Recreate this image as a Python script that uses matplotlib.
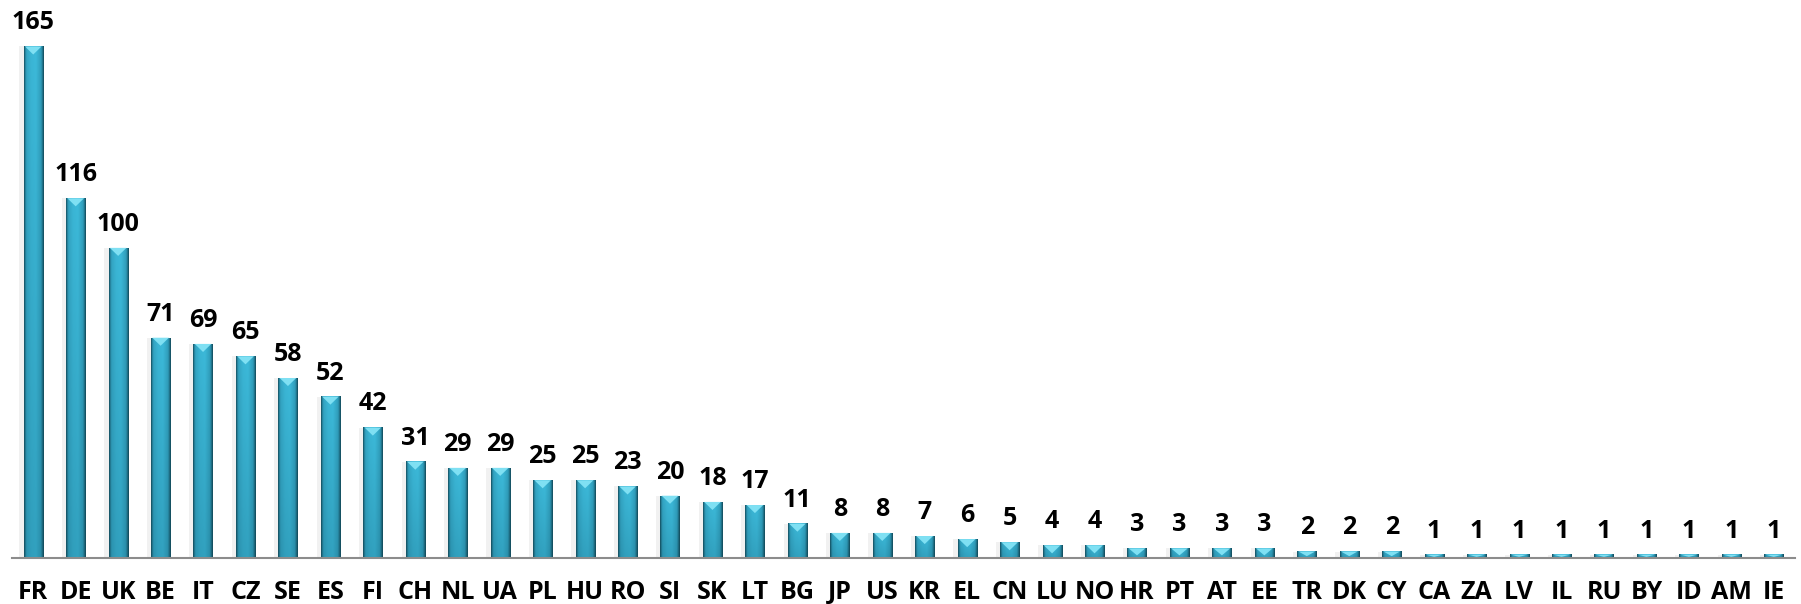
import numpy as np
import matplotlib.pyplot as plt
from matplotlib.patches import Polygon
from matplotlib.colors import LinearSegmentedColormap

countries = ["FR", "DE", "UK", "BE", "IT", "CZ", "SE", "ES", "FI", "CH", "NL", "UA",
             "PL", "HU", "RO", "SI", "SK", "LT", "BG", "JP", "US", "KR", "EL", "CN",
             "LU", "NO", "HR", "PT", "AT", "EE", "TR", "DK", "CY", "CA", "ZA", "LV",
             "IL", "RU", "BY", "ID", "AM", "IE"]
counts = [165, 116, 100, 71, 69, 65, 58, 52, 42, 31, 29, 29,
          25, 25, 23, 20, 18, 17, 11, 8, 8, 7, 6, 5,
          4, 4, 3, 3, 3, 3, 2, 2, 2, 1, 1, 1,
          1, 1, 1, 1, 1, 1]

plt.rcParams['font.family'] = ['Open Sans', 'DejaVu Sans']

fig = plt.figure(figsize=(18.01, 6.04), dpi=100)
ax = fig.add_axes([12 / 1801, 46.3 / 604, 1783 / 1801, 557.7 / 604])

x = np.arange(len(countries))
width = 0.45

# cylinder-like shading: dark edges across, brighter towards the top
across = np.array([0.0, 0.12, 0.35, 0.6, 0.85, 1.0])
shade = np.array([0.15, 0.75, 0.95, 1.0, 0.7, 0.1])
cmap = LinearSegmentedColormap.from_list(
    "bar", ["#0f3f4d", "#2a8fab", "#3cb9d9"])

bars = ax.bar(x, counts, width=width, color="none", edgecolor="none", zorder=3)
for rect, v in zip(bars, counts):
    x0 = rect.get_x()
    # soft shadow on the left
    ax.bar(x0 + width / 2 - 0.05, v, width=width + 0.1,
           color="#d9d9d9", alpha=0.35, zorder=2, linewidth=0)
    ys = np.linspace(0, 1, 40)[:, None]
    xs = np.interp(np.linspace(0, 1, 30), across, shade)[None, :]
    img = xs * (0.72 + 0.28 * ys)
    ax.imshow(img, cmap=cmap, vmin=0, vmax=1, origin="lower", aspect="auto",
              extent=(x0, x0 + width, 0, v), zorder=3, interpolation="bilinear")
    dy = min(2.6, v * 0.75)
    tri = Polygon([[x0 + 0.03, v], [x0 + width - 0.03, v],
                   [x0 + width / 2, v - dy]], closed=True,
                  facecolor="#7fe0f3", edgecolor="none", zorder=4)
    ax.add_patch(tri)
    ax.annotate(str(v), (x0 + width / 2, v), xytext=(0, 12.3),
                textcoords="offset points", ha="center", va="baseline",
                fontsize=18, fontweight="bold", color="black")

ax.set_xlim(-0.5, len(countries) - 0.5)
ax.set_ylim(0, 180)
ax.set_xticks(x)
ax.set_xticklabels(countries, fontsize=18, fontweight="bold")
ax.tick_params(axis="x", length=0, pad=16)
ax.set_yticks([])
for s in ["top", "right", "left"]:
    ax.spines[s].set_visible(False)
ax.spines["bottom"].set_color("#8c8c8c")
ax.spines["bottom"].set_linewidth(1.5)
ax.spines["bottom"].set_zorder(5)

fig.savefig("out.png", dpi=100)
